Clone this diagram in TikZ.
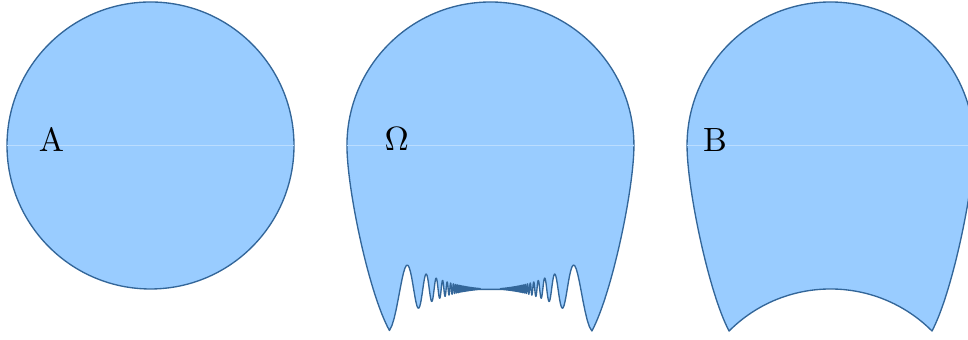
\documentclass[tikz,border=0pt]{standalone}
\usepackage{amsmath}
\usepackage{tikz}
\usetikzlibrary{calc}

\definecolor{regionfill}{HTML}{99CCFF}
\definecolor{regionline}{HTML}{336699}
\definecolor{seamline}{HTML}{BBDDFF}

\begin{document}
\begin{tikzpicture}[
    x=1.5cm, y=1.5cm,
    region/.style={fill=regionfill,draw=regionline,line width=0.4pt,line join=round},
    seam/.style={draw=seamline,line width=0.4pt},
    lbl/.style={inner sep=0pt,font=\normalsize}
]
\useasboundingbox (-1.0488,-1.3554) rectangle (5.697,1.0139);

% disc A
\begin{scope}
  \path[region] (0,0) circle[radius=1];
  \coordinate (aw) at (-1,0);
  \coordinate (ae) at (1,0);
  \draw[seam] (aw) -- (ae);
  \node[lbl] (labA) at (-0.69,0.045) {A};
\end{scope}

% domain Omega, wiggly bottom
\begin{scope}[shift={(2.369,0)}]
  \path[region] (-1,0) arc[start angle=180,end angle=0,radius=1]
    .. controls (1,-0.3) and (0.848,-1.028) .. (0.7071,-1.2929)
    -- plot[variable=\t,domain=2:200,samples=1981]
       ({1/sqrt(\t)},{-2+sqrt(1-1/\t)+1.05*(1-cos(180*mod(\t,2)))/(2*\t)})
    -- plot[variable=\t,domain=200:2,samples=1981]
       ({-1/sqrt(\t)},{-2+sqrt(1-1/\t)+1.05*(1-cos(180*mod(\t,2)))/(2*\t)})
    .. controls (-0.848,-1.028) and (-1,-0.3) .. cycle;
  \coordinate (ow) at (-1,0);
  \coordinate (oe) at (1,0);
  \draw[seam] (ow) -- (oe);
  \node[lbl] (labO) at (-0.652,0.045) {$\Omega$};
\end{scope}

% domain B, round bottom
\begin{scope}[shift={(4.739,0)}]
  \path[region] (-1,0) arc[start angle=180,end angle=0,radius=1]
    .. controls (1,-0.3) and (0.848,-1.028) .. (0.7071,-1.2929)
    arc[start angle=45,end angle=135,radius=1]
    .. controls (-0.848,-1.028) and (-1,-0.3) .. cycle;
  \coordinate (bw) at (-1,0);
  \coordinate (be) at (1,0);
  \draw[seam] (bw) -- (be);
  \node[lbl] (labB) at (-0.805,0.04) {B};
\end{scope}
\end{tikzpicture}
\end{document}
